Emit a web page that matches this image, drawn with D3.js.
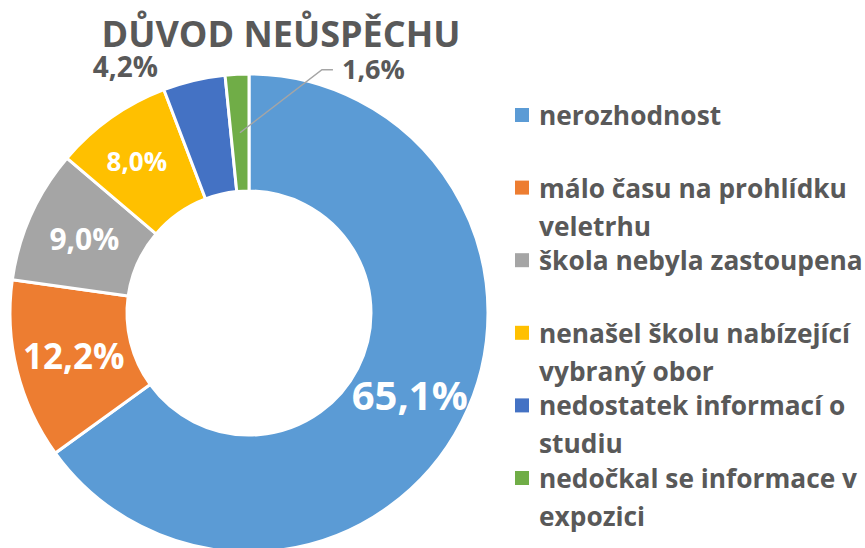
<!DOCTYPE html>
<html>
<head>
<meta charset="utf-8">
<script src="https://cdn.jsdelivr.net/npm/d3@7"></script>
<style>
  body { margin: 0; background: #fff; }
  text { font-family: "Open Sans", Lato, sans-serif; font-weight: bold; }
</style>
</head>
<body>
<div id="vis"></div>
<script>
const WIDTH = 865;
const HEIGHT = 548;

// datos
const title = "DŮVOD NEŮSPĚCHU";
const categories = [
    "nerozhodnost",
    "málo času na prohlídku\nveletrhu",
    "škola nebyla zastoupena",
    "nenašel školu nabízející\nvybraný obor",
    "nedostatek informací o\nstudiu",
    "nedočkal se informace v\nexpozici"
];
const values = [65.1, 12.2, 9.0, 8.0, 4.2, 1.6];
const colors = ["#5B9BD5", "#ED7D31", "#A5A5A5", "#FFC000", "#4472C4", "#70AD47"];

// estilo de etiquetas (tamaño de fuente, dentro/fuera)
const labelSize = [40, 35, 30, 26, 28, 27];
const labelInside = [true, true, true, true, false, false];

const SVG = d3.select("#vis").append("svg")
    .attr("width", WIDTH)
    .attr("height", HEIGHT);

const cx = 249, cy = 313;
const rOuter = 239, rInner = 122;

// titulo
SVG.append("text")
    .attr("x", 281)
    .attr("y", 47)
    .attr("text-anchor", "middle")
    .attr("font-size", 36)
    .attr("fill", "#595959")
    .text(title);

const pie = d3.pie().sort(null).value(d => d);
const arcs = pie(values);
const arc = d3.arc().innerRadius(rInner).outerRadius(rOuter);

const donut = SVG.append("g").attr("transform", `translate(${cx},${cy})`);

donut.selectAll("path")
    .data(arcs)
    .join("path")
    .attr("d", arc)
    .attr("fill", (d, i) => colors[i])
    .attr("stroke", "white")
    .attr("stroke-width", 3);

const fmt = v => d3.format(".1f")(v).replace(".", ",") + "%";

// etiquetas dentro del anillo
donut.selectAll("text.inside")
    .data(arcs.filter((d, i) => labelInside[i]))
    .join("text")
    .attr("class", "inside")
    .attr("transform", d => {
        const c = arc.centroid(d);
        // el 8,0% queda un poco mas a la izquierda en el original
        return d.index === 3 ? `translate(${c[0] - 8},${c[1] - 4})` : `translate(${c})`;
    })
    .attr("text-anchor", "middle")
    .attr("dy", "0.36em")
    .attr("font-size", d => labelSize[d.index])
    .attr("fill", "white")
    .text(d => fmt(d.data));

// etiqueta 4,2% (fuera, a la izquierda del trozo)
const dBlue = arcs[4];
const pOut = d3.arc().innerRadius(rOuter).outerRadius(rOuter).centroid(dBlue);
donut.append("text")
    .attr("x", pOut[0] - 36)
    .attr("y", pOut[1] - 3)
    .attr("text-anchor", "end")
    .attr("font-size", labelSize[4])
    .attr("fill", "#595959")
    .text(fmt(values[4]));

// etiqueta 1,6% con linea guia
const dGreen = arcs[5];
const pIn = arc.centroid(dGreen);
const elbow = [pIn[0] + 82, pIn[1] - 63];
donut.append("polyline")
    .attr("points", [pIn, elbow, [elbow[0] + 11, elbow[1]]].map(p => p.join(",")).join(" "))
    .attr("fill", "none")
    .attr("stroke", "#A5A5A5")
    .attr("stroke-width", 1.5);
donut.append("text")
    .attr("x", elbow[0] + 20)
    .attr("y", elbow[1])
    .attr("dy", "0.36em")
    .attr("font-size", labelSize[5])
    .attr("fill", "#595959")
    .text(fmt(values[5]));

// leyenda
const legendY = d3.scaleLinear().domain([0, categories.length - 1]).range([125, 488]);
const legend = SVG.append("g").attr("id", "legend");
const items = legend.selectAll("g")
    .data(categories)
    .join("g")
    .attr("transform", (d, i) => `translate(515,${legendY(i)})`);

items.append("rect")
    .attr("x", 0)
    .attr("y", -17)
    .attr("width", 14)
    .attr("height", 14)
    .attr("fill", (d, i) => colors[i]);

items.append("text")
    .attr("x", 24)
    .attr("font-size", 26.3)
    .attr("fill", "#595959")
    .selectAll("tspan")
    .data(d => d.split("\n"))
    .join("tspan")
    .attr("x", 24)
    .attr("y", (d, j) => j * 38)
    .text(d => d);
</script>
</body>
</html>
